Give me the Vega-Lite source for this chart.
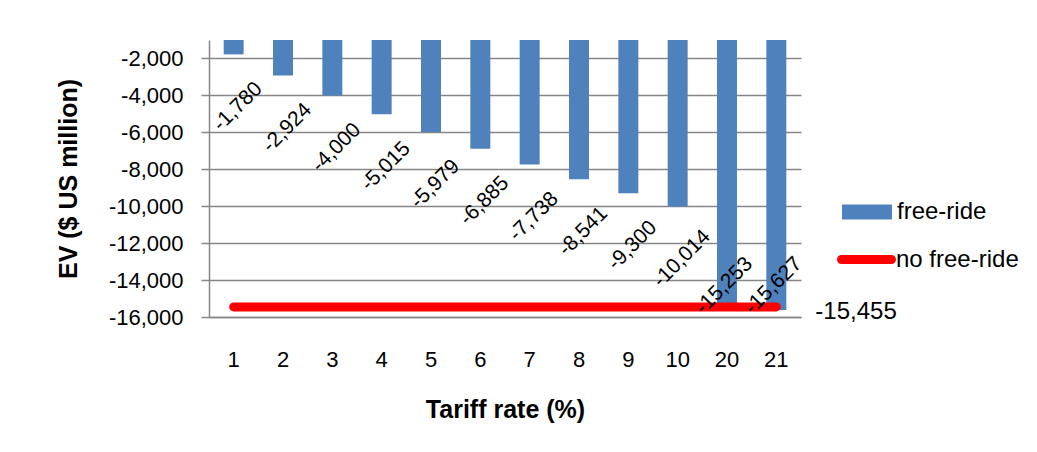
{
  "$schema": "https://vega.github.io/schema/vega-lite/v6.json",
  "width": 592,
  "height": 277,
  "autosize": "none",
  "padding": {"left": 209, "top": 40, "right": 236, "bottom": 135},
  "background": "white",
  "data": {
    "values": [
      {"tariff": "1", "free_ride": -1780, "no_free_ride": -15455},
      {"tariff": "2", "free_ride": -2924, "no_free_ride": -15455},
      {"tariff": "3", "free_ride": -4000, "no_free_ride": -15455},
      {"tariff": "4", "free_ride": -5015, "no_free_ride": -15455},
      {"tariff": "5", "free_ride": -5979, "no_free_ride": -15455},
      {"tariff": "6", "free_ride": -6885, "no_free_ride": -15455},
      {"tariff": "7", "free_ride": -7738, "no_free_ride": -15455},
      {"tariff": "8", "free_ride": -8541, "no_free_ride": -15455},
      {"tariff": "9", "free_ride": -9300, "no_free_ride": -15455},
      {"tariff": "10", "free_ride": -10014, "no_free_ride": -15455},
      {"tariff": "20", "free_ride": -15253, "no_free_ride": -15455},
      {"tariff": "21", "free_ride": -15627, "no_free_ride": -15455}
    ]
  },
  "encoding": {
    "x": {
      "field": "tariff",
      "type": "ordinal",
      "sort": null,
      "scale": {"paddingInner": 0.595, "paddingOuter": 0.2975},
      "axis": {
        "title": "Tariff rate (%)",
        "labelAngle": 0,
        "ticks": false,
        "tickSize": 0,
        "labelPadding": 32,
        "labelFontSize": 22,
        "titleFontSize": 25,
        "titlePadding": 27,
        "domainColor": "#868686",
        "domainWidth": 1.5,
        "grid": false
      }
    }
  },
  "layer": [
    {
      "mark": {"type": "bar"},
      "encoding": {
        "y": {
          "field": "free_ride",
          "type": "quantitative",
          "scale": {"domain": [-16000, -1000], "nice": false, "zero": false},
          "axis": {
            "title": "EV ($ US million)",
            "values": [-16000, -14000, -12000, -10000, -8000, -6000, -4000, -2000],
            "format": ",.0f",
            "labelOverlap": false,
            "labelFontSize": 22,
            "labelPadding": 18,
            "tickSize": 8,
            "tickColor": "#868686",
            "tickWidth": 1.5,
            "domainColor": "#868686",
            "domainWidth": 1.5,
            "gridColor": "#868686",
            "gridWidth": 1.5,
            "titleFontSize": 25,
            "titlePadding": 27
          }
        },
        "y2": {"datum": -1000},
        "fill": {
          "datum": "free-ride",
          "type": "nominal",
          "scale": {"range": ["#4f81bd"]},
          "legend": {
            "title": null,
            "orient": "none",
            "legendX": 633,
            "legendY": 147,
            "padding": 0,
            "symbolType": "M-1,-0.3H1V0.3H-1Z",
            "symbolSize": 2500,
            "symbolStrokeWidth": 0,
            "labelOffset": 5
          }
        }
      }
    },
    {
      "mark": {"type": "line", "strokeWidth": 9, "strokeCap": "round"},
      "encoding": {
        "y": {
          "field": "no_free_ride",
          "type": "quantitative",
          "axis": {
            "title": "EV ($ US million)",
            "values": [-16000, -14000, -12000, -10000, -8000, -6000, -4000, -2000],
            "format": ",.0f",
            "labelOverlap": false,
            "labelFontSize": 22,
            "labelPadding": 18,
            "tickSize": 8,
            "tickColor": "#868686",
            "tickWidth": 1.5,
            "domainColor": "#868686",
            "domainWidth": 1.5,
            "gridColor": "#868686",
            "gridWidth": 1.5,
            "titleFontSize": 25,
            "titlePadding": 27
          }
        },
        "stroke": {
          "datum": "no free-ride",
          "type": "nominal",
          "scale": {"range": ["#ff0000"]},
          "legend": {
            "title": null,
            "orient": "none",
            "legendX": 628,
            "legendY": 190,
            "padding": 0,
            "symbolType": "M-0.8475,-0.1525H0.8475A0.1525,0.1525 0 0 1 0.8475,0.1525H-0.8475A0.1525,0.1525 0 0 1 -0.8475,-0.1525Z",
            "symbolSize": 3481,
            "symbolFillColor": "#ff0000",
            "symbolStrokeWidth": 0,
            "labelOffset": 0
          }
        }
      }
    },
    {
      "transform": [{"filter": "datum.free_ride > -12000"}],
      "mark": {"type": "text", "angle": 315, "align": "center", "baseline": "middle", "dx": -34, "dy": 40, "fontSize": 21, "color": "black"},
      "encoding": {
        "y": {
          "field": "free_ride",
          "type": "quantitative",
          "axis": {
            "title": "EV ($ US million)",
            "values": [-16000, -14000, -12000, -10000, -8000, -6000, -4000, -2000],
            "format": ",.0f",
            "labelOverlap": false,
            "labelFontSize": 22,
            "labelPadding": 18,
            "tickSize": 8,
            "tickColor": "#868686",
            "tickWidth": 1.5,
            "domainColor": "#868686",
            "domainWidth": 1.5,
            "gridColor": "#868686",
            "gridWidth": 1.5,
            "titleFontSize": 25,
            "titlePadding": 27
          }
        },
        "text": {"field": "free_ride", "type": "quantitative", "format": ","}
      }
    },
    {
      "transform": [{"filter": "datum.free_ride <= -12000"}],
      "mark": {"type": "text", "angle": 315, "align": "center", "baseline": "middle", "dx": 20, "dy": -24, "fontSize": 21, "color": "black"},
      "encoding": {
        "y": {
          "datum": -16000,
          "type": "quantitative",
          "axis": {
            "title": "EV ($ US million)",
            "values": [-16000, -14000, -12000, -10000, -8000, -6000, -4000, -2000],
            "format": ",.0f",
            "labelOverlap": false,
            "labelFontSize": 22,
            "labelPadding": 18,
            "tickSize": 8,
            "tickColor": "#868686",
            "tickWidth": 1.5,
            "domainColor": "#868686",
            "domainWidth": 1.5,
            "gridColor": "#868686",
            "gridWidth": 1.5,
            "titleFontSize": 25,
            "titlePadding": 27
          }
        },
        "text": {"field": "free_ride", "type": "quantitative", "format": ","}
      }
    },
    {
      "transform": [{"filter": "datum.tariff == '21'"}],
      "mark": {"type": "text", "align": "left", "baseline": "middle", "dx": 39, "dy": 5, "fontSize": 24, "color": "black"},
      "encoding": {
        "y": {
          "field": "no_free_ride",
          "type": "quantitative",
          "axis": {
            "title": "EV ($ US million)",
            "values": [-16000, -14000, -12000, -10000, -8000, -6000, -4000, -2000],
            "format": ",.0f",
            "labelOverlap": false,
            "labelFontSize": 22,
            "labelPadding": 18,
            "tickSize": 8,
            "tickColor": "#868686",
            "tickWidth": 1.5,
            "domainColor": "#868686",
            "domainWidth": 1.5,
            "gridColor": "#868686",
            "gridWidth": 1.5,
            "titleFontSize": 25,
            "titlePadding": 27
          }
        },
        "text": {"field": "no_free_ride", "type": "quantitative", "format": ","}
      }
    }
  ],
  "config": {
    "font": "Liberation Sans",
    "locale": {"number": {"decimal": ".", "thousands": ",", "grouping": [3], "currency": ["$", ""], "minus": "-"}},
    "view": {"stroke": null},
    "axis": {"labelColor": "black", "titleColor": "black", "labelFont": "Liberation Sans", "titleFont": "Liberation Sans", "titleFontWeight": "bold"},
    "legend": {"labelFontSize": 24, "labelColor": "black", "labelFont": "Liberation Sans"},
    "text": {"font": "Liberation Sans"}
  }
}
